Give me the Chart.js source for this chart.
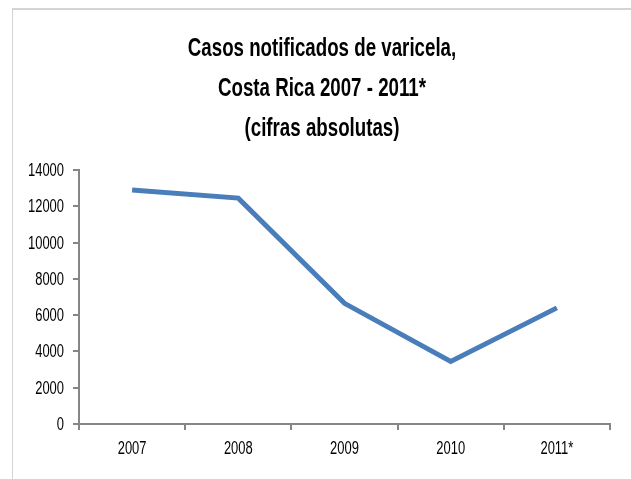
<!DOCTYPE html>
<html>
<head>
<meta charset="utf-8">
<script src="https://cdn.jsdelivr.net/npm/chart.js@4"></script>
<style>
  html, body { margin: 0; padding: 0; background: #fff; }
  #wrap { position: relative; width: 631px; height: 479px; overflow: hidden; }
  #frame { position: absolute; left: 12px; top: 8px; right: -2px; bottom: -2px;
           border-left: 1px solid #d4d4d4; border-top: 2px solid #d4d4d4; }
  canvas { position: absolute; left: 0; top: 0; }
</style>
</head>
<body>
<div id="wrap">
  <div id="frame"></div>
  <canvas id="myChart" width="631" height="479"></canvas>
</div>
<script>
const years = ['2007', '2008', '2009', '2010', '2011*'];
const cases = [12900, 12450, 6650, 3450, 6400];
const yTicks = [0, 2000, 4000, 6000, 8000, 10000, 12000, 14000];
const titleLines = ['Casos notificados de varicela,', 'Costa Rica 2007 - 2011*', '(cifras absolutas)'];

const font = "'Liberation Sans', Arial, sans-serif";
const axisGrey = '#868686';
const squeeze = 0.72;

// the original uses a narrow face (Calibri-like), so text is drawn squeezed
function narrowText(c, text, x, y) {
    c.save();
    c.translate(x, y);
    c.scale(squeeze, 1);
    c.fillText(text, 0, 0);
    c.restore();
}

const narrowLabels = {
    id: 'narrowLabels',
    afterDraw(chart) {
        const c = chart.ctx;
        c.save();
        c.fillStyle = '#000';

        // title
        c.font = 'bold 26px ' + font;
        c.textAlign = 'center';
        c.textBaseline = 'alphabetic';
        titleLines.forEach((line, i) => narrowText(c, line, 322, 56 + i * 40));

        // tick labels, placed with the chart's scales
        c.font = '18px ' + font;
        c.textBaseline = 'middle';
        const x = chart.scales.x;
        x.ticks.forEach((t, i) => {
            narrowText(c, years[i], x.getPixelForTick(i), 449);
        });
        const y = chart.scales.y;
        c.textAlign = 'right';
        y.ticks.forEach((t) => {
            narrowText(c, String(t.value), 64, y.getPixelForValue(t.value) + 1);
        });
        c.restore();
    }
};

const ctx = document.getElementById('myChart').getContext('2d');

const myChart = new Chart(ctx, {
    type: 'line',
    data: {
        labels: years,
        datasets: [{
            data: cases,
            borderColor: '#4a7ebb',
            borderWidth: 5,
            pointRadius: 0,
            tension: 0,
            fill: false
        }]
    },
    options: {
        responsive: false,
        animation: false,
        layout: { padding: { left: 0, right: 21, top: 170, bottom: 0 } },
        plugins: {
            legend: { display: false },
            tooltip: { enabled: false },
            title: { display: false }
        },
        scales: {
            x: {
                offset: true,
                border: { color: axisGrey, width: 2 },
                grid: { offset: true, drawOnChartArea: false, drawTicks: true, tickLength: 6, color: axisGrey, lineWidth: 2 },
                ticks: { display: false },
                afterFit: (scale) => { scale.height = 55; }
            },
            y: {
                min: 0,
                max: 14000,
                afterBuildTicks: (scale) => { scale.ticks = yTicks.map(v => ({ value: v })); },
                border: { color: axisGrey, width: 2 },
                grid: { drawOnChartArea: false, drawTicks: true, tickLength: 6, color: axisGrey, lineWidth: 2 },
                ticks: { display: false },
                afterFit: (scale) => { scale.width = 79; }
            }
        }
    },
    plugins: [narrowLabels]
});
</script>
</body>
</html>
